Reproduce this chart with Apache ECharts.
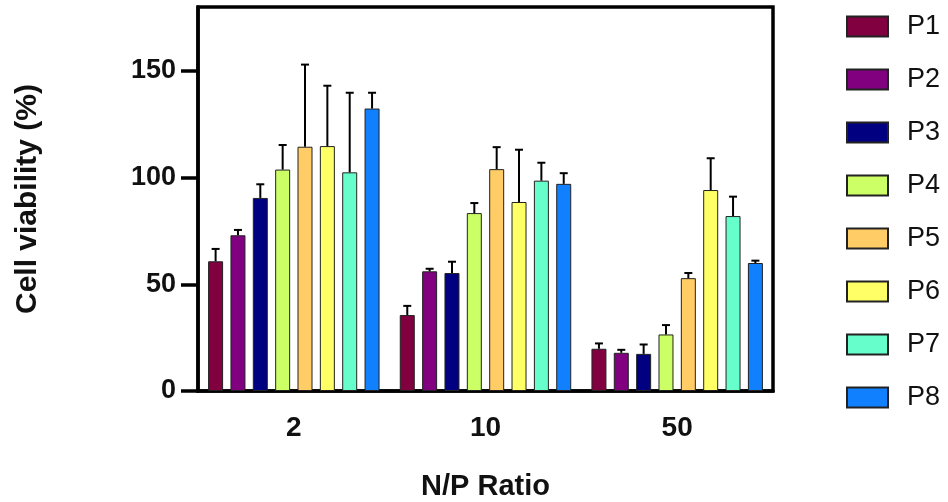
<!DOCTYPE html>
<html>
<head>
<meta charset="utf-8">
<script src="https://cdn.jsdelivr.net/npm/echarts@6/dist/echarts.min.js"></script>
<style>
    html, body { margin: 0; padding: 0; background: #fff; }
    #chart_01 { width: 948px; height: 502px; }
</style>
</head>
<body>
<div id="chart_01"></div>
<script>
// N/P ratio groups
var categories = ['2', '10', '50'];
var seriesNames = ['P1', 'P2', 'P3', 'P4', 'P5', 'P6', 'P7', 'P8'];
var colors = ['#800040', '#800080', '#000080', '#ccff66', '#ffcc66', '#ffff66', '#66ffcc', '#1080ff'];

// mean cell viability (%) per series, one value per N/P ratio
var p1 = [60.8, 35.6, 19.8];
var p2 = [73.0, 56.1, 17.9];
var p3 = [90.5, 55.3, 17.4];
var p4 = [103.8, 83.4, 26.5];
var p5 = [114.5, 104.0, 52.9];
var p6 = [114.8, 88.6, 94.2];
var p7 = [102.5, 98.6, 82.0];
var p8 = [132.4, 97.1, 60.0];

// upper end of the error bars
var p1Err = [66.6, 39.9, 22.3];
var p2Err = [75.5, 57.3, 19.3];
var p3Err = [96.9, 60.6, 21.8];
var p4Err = [115.3, 88.1, 30.9];
var p5Err = [153.0, 114.3, 55.3];
var p6Err = [143.1, 113.1, 109.1];
var p7Err = [139.8, 107.0, 91.1];
var p8Err = [139.8, 102.1, 61.1];

var yTicks = [0, 50, 100, 150];

var means = [p1, p2, p3, p4, p5, p6, p7, p8];
var errTops = [p1Err, p2Err, p3Err, p4Err, p5Err, p6Err, p7Err, p8Err];

var BAR_W = 15;
var BAR_GAP = 0.49;

var myChart = echarts.init(document.getElementById('chart_01'));

var series = [];
for (var i = 0; i < seriesNames.length; i++) {
    series.push({
        name: seriesNames[i],
        type: 'bar',
        data: means[i],
        barWidth: BAR_W,
        barGap: (BAR_GAP * 100) + '%',
        itemStyle: {
            color: colors[i],
            borderColor: '#222',
            borderWidth: 1
        },
        emphasis: { disabled: true }
    });
}

var errData = [];
for (var s = 0; s < seriesNames.length; s++) {
    for (var c = 0; c < categories.length; c++) {
        errData.push([c, means[s][c], errTops[s][c], s]);
    }
}

series.push({
    type: 'custom',
    name: 'err',
    data: errData,
    z: 5,
    renderItem: function (params, api) {
        var cat = api.value(0);
        var idx = api.value(3);
        var n = seriesNames.length;
        var pitch = BAR_W * (1 + BAR_GAP);
        var off = (idx - (n - 1) / 2) * pitch;
        var base = api.coord([cat, api.value(1)]);
        var top = api.coord([cat, api.value(2)]);
        var x = base[0] + off;
        var cap = 4;
        var st = { stroke: '#000', lineWidth: 2 };
        return {
            type: 'group',
            children: [
                { type: 'line', shape: { x1: x, y1: base[1], x2: x, y2: top[1] }, style: st },
                { type: 'line', shape: { x1: x - cap, y1: top[1], x2: x + cap, y2: top[1] }, style: st }
            ]
        };
    }
});

var option = {
    animation: false,
    grid: {
        left: 198,
        right: 175,
        top: 7,
        bottom: 111,
        outerBoundsMode: 'none',
        containLabel: false,
        show: true,
        borderColor: '#000',
        borderWidth: 3.5
    },
    legend: {
        data: seriesNames,
        orient: 'vertical',
        left: 841,
        top: 8,
        icon: 'rect',
        itemWidth: 41,
        itemHeight: 20,
        itemGap: 26,
        textStyle: {
            fontFamily: 'Liberation Sans, Arial',
            fontSize: 27,
            color: '#111',
            padding: [0, 0, 0, 14]
        }
    },
    xAxis: {
        type: 'category',
        data: categories,
        name: 'N/P Ratio',
        nameLocation: 'middle',
        nameGap: 81,
        nameTextStyle: {
            fontFamily: 'Liberation Sans, Arial',
            fontWeight: 'bold',
            fontSize: 29,
            color: '#111'
        },
        axisLine: { lineStyle: { color: '#000', width: 3.5 } },
        axisTick: { alignWithLabel: true, length: 16, lineStyle: { color: '#000', width: 3.5 } },
        axisLabel: {
            margin: 23,
            fontFamily: 'Liberation Sans, Arial',
            fontWeight: 'bold',
            fontSize: 28,
            color: '#111'
        }
    },
    yAxis: {
        type: 'value',
        min: 0,
        max: 180,
        interval: 50,
        name: 'Cell viability (%)',
        nameLocation: 'middle',
        nameGap: 155,
        nameRotate: 90,
        nameTextStyle: {
            fontFamily: 'Liberation Sans, Arial',
            fontWeight: 'bold',
            fontSize: 30,
            color: '#111'
        },
        splitLine: { show: false },
        axisLine: { show: true, lineStyle: { color: '#000', width: 3.5 } },
        axisTick: { show: true, length: 17, customValues: yTicks, lineStyle: { color: '#000', width: 3.5 } },
        axisLabel: {
            margin: 22,
            customValues: yTicks,
            fontFamily: 'Liberation Sans, Arial',
            fontWeight: 'bold',
            fontSize: 27,
            color: '#111'
        }
    },
    series: series
};

myChart.setOption(option);
</script>
</body>
</html>
